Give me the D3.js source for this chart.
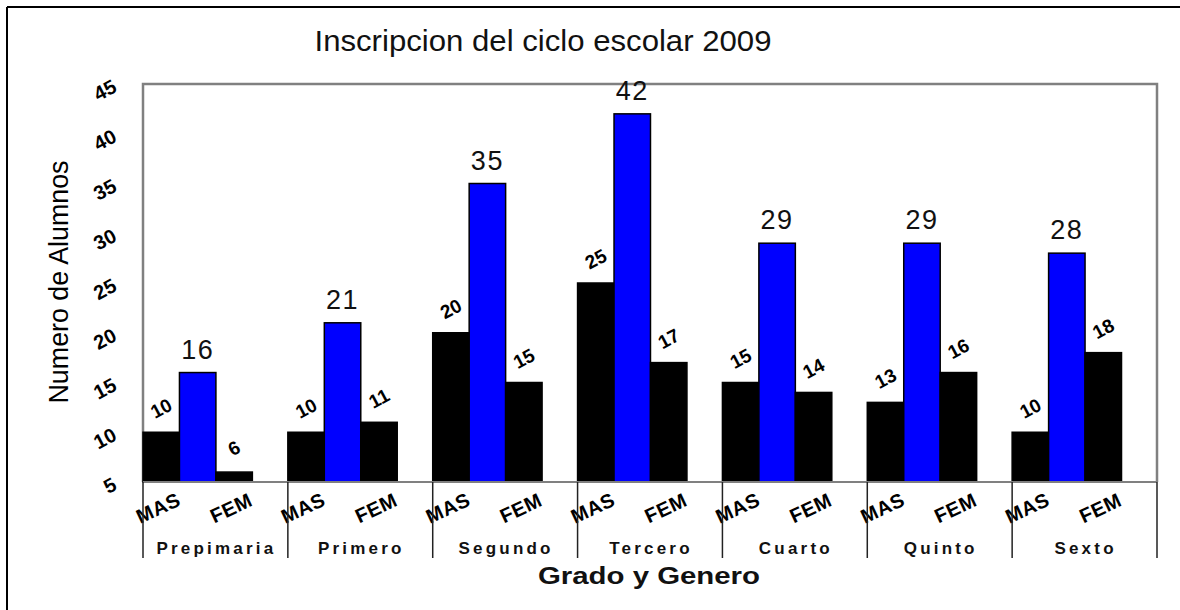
<!DOCTYPE html>
<html><head><meta charset="utf-8">
<script src="https://cdn.jsdelivr.net/npm/d3@7"></script>
<style>body{margin:0;background:#fff}svg{display:block;font-family:Arial,"Liberation Sans",sans-serif}</style>
</head><body><svg id="c" width="1180" height="610"></svg>
<script>
const groups = ["Prepimaria","Primero","Segundo","Tercero","Cuarto","Quinto","Sexto"];
const masValues = [10,10,20,25,15,13,10];
const totalValues = [16,21,35,42,29,29,28];
const femValues = [6,11,15,17,14,16,18];
const yTicks = [5,10,15,20,25,30,35,40,45];
const subKeys = ["MAS","TOTAL","FEM"];
const subLabels = ["MAS","","FEM"];
const title = "Inscripcion del ciclo escolar 2009";
const yTitle = "Numero de Alumnos";
const xTitle = "Grado y Genero";

const svg = d3.select("#c");
const L=143,R=1157,T=84,B=482;
const x0 = d3.scaleBand().domain(groups).range([L,R]).padding(0);
const x1 = d3.scaleBand().domain(subKeys).range([0, x0.bandwidth()*0.755]).padding(0);
const y = d3.scaleLinear().domain([5,45]).range([B,T]);

// outer border
svg.append("line").attr("x1",7).attr("x2",1180).attr("y1",7).attr("y2",7).attr("stroke","#000").attr("stroke-width",2);
svg.append("line").attr("x1",7).attr("x2",7).attr("y1",7).attr("y2",610).attr("stroke","#000").attr("stroke-width",2);

// plot frame
svg.append("path").attr("d",`M${L},${B}V${T}H${R}V${B}`).attr("fill","none").attr("stroke","#808080").attr("stroke-width",2.5);

const rows = groups.map((g,i)=>({g, vals:{MAS:masValues[i],TOTAL:totalValues[i],FEM:femValues[i]}}));

// bars
const gg = svg.selectAll("g.grp").data(rows).join("g").attr("class","grp").attr("transform",d=>`translate(${x0(d.g)},0)`);
gg.selectAll("rect").data(d=>subKeys.map(k=>({k,v:d.vals[k]}))).join("rect")
  .attr("x",d=>x1(d.k)).attr("width",x1.bandwidth())
  .attr("y",d=>y(d.v)).attr("height",d=>B-y(d.v))
  .attr("fill",d=>d.k==="TOTAL"?"#0000ff":"#000")
  .attr("stroke","#000").attr("stroke-width",1.5);

// value labels
gg.selectAll("text.val").data(d=>subKeys.map(k=>({k,v:d.vals[k]}))).join("text").attr("class","val")
  .each(function(d){
    const s=d3.select(this), cx=x1(d.k)+x1.bandwidth()/2;
    if(d.k==="TOTAL"){
      s.attr("x",cx).attr("y",y(d.v)-14).attr("text-anchor","middle").attr("font-size",27).attr("letter-spacing","1.5px").attr("fill","#111").text(d.v);
    } else {
      s.attr("transform",`translate(${cx},${y(d.v)-24}) rotate(-28)`).attr("text-anchor","middle").attr("dy","0.35em")
       .attr("font-size",19).attr("font-weight","bold").attr("fill","#000").text(d.v);
    }
  });

// x axis baseline
svg.append("line").attr("x1",L).attr("x2",R).attr("y1",B).attr("y2",B).attr("stroke","#808080").attr("stroke-width",2);

// dividers
const divs = groups.map(g=>x0(g)).concat([R]);
svg.selectAll("line.div").data(divs).join("line").attr("class","div")
  .attr("x1",d=>d).attr("x2",d=>d).attr("y1",B).attr("y2",558).attr("stroke","#222").attr("stroke-width",1.5);

// sub labels
gg.selectAll("text.sub").data(subKeys.map((k,i)=>({k,l:subLabels[i]})).filter(d=>d.l)).join("text").attr("class","sub")
  .attr("transform",d=>`translate(${x1(d.k)+x1.bandwidth()/2-3},${508}) rotate(-25)`)
  .attr("text-anchor","middle").attr("dy","0.35em").attr("font-size",20).attr("font-weight","bold").attr("letter-spacing","0.5px").text(d=>d.l);

// group labels
svg.selectAll("text.grpl").data(groups).join("text").attr("class","grpl")
  .attr("x",d=>x0(d)+x0.bandwidth()/2+1).attr("y",554).attr("text-anchor","middle")
  .attr("font-size",17).attr("font-weight","bold").attr("letter-spacing","3.2px").attr("fill","#111").text(d=>d);

// y ticks
svg.selectAll("text.yt").data(yTicks).join("text").attr("class","yt")
  .attr("transform",d=>`translate(118,${y(d)+7}) rotate(-28)`).attr("text-anchor","end")
  .attr("font-size",20).attr("font-weight","bold").text(d=>d);

// titles
svg.append("text").attr("x",543).attr("y",51).attr("text-anchor","middle").attr("font-size",30)
  .attr("textLength",457).attr("lengthAdjust","spacingAndGlyphs").attr("fill","#111").text(title);
svg.append("text").attr("transform","translate(68,282) rotate(-90)").attr("text-anchor","middle").attr("font-size",28)
  .attr("textLength",243).attr("lengthAdjust","spacingAndGlyphs").attr("fill","#000").text(yTitle);
svg.append("text").attr("x",649).attr("y",584).attr("text-anchor","middle").attr("font-size",23).attr("font-weight","bold")
  .attr("textLength",222).attr("lengthAdjust","spacingAndGlyphs").attr("fill","#111").text(xTitle);
</script></body></html>
